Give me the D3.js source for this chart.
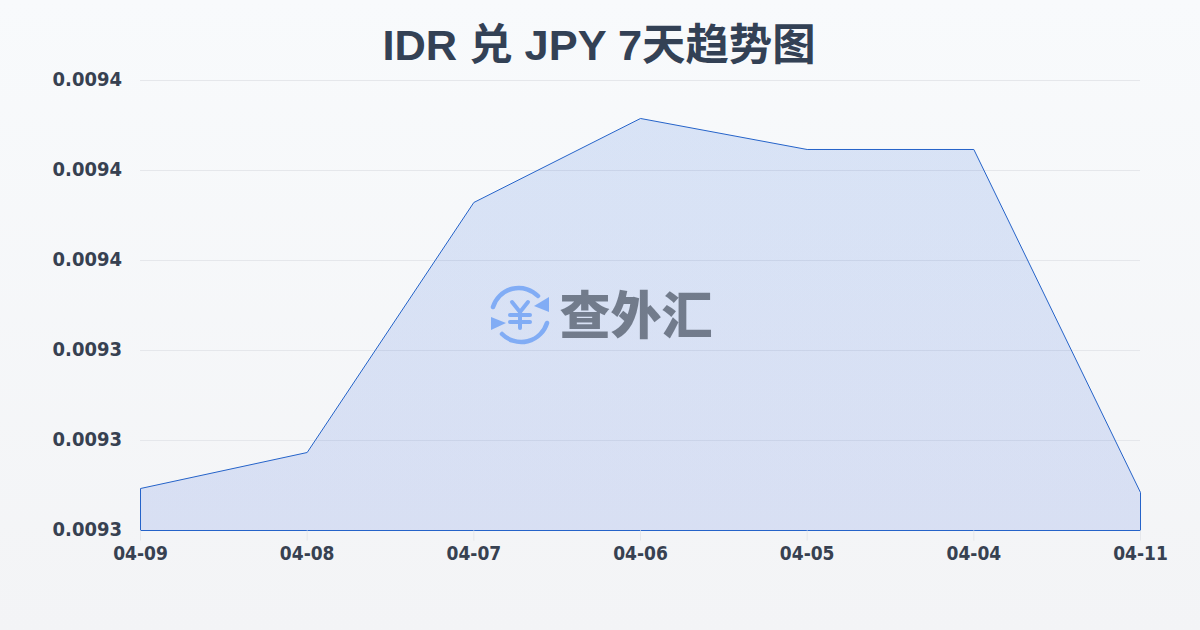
<!DOCTYPE html>
<html><head><meta charset="utf-8">
<script src="https://cdn.jsdelivr.net/npm/d3@7/dist/d3.min.js"></script>
<style>
html,body{margin:0;padding:0;background:#f6f7f9}
svg{display:block}
</style></head><body><svg id="c" width="1200" height="630"></svg>
<script>
const titleText = "IDR 兑 JPY 7天趋势图";
const dates = ["04-09","04-08","04-07","04-06","04-05","04-04","04-11"];
const rates = [0.00930933,0.00931733,0.00937289,0.00939156,0.00938467,0.00938467,0.00930844];
const yTicks = [0.0093,0.00932,0.00934,0.00936,0.00938,0.0094];
const watermarkText = "查外汇";

const svg = d3.select("#c");
const defs = svg.append("defs");
const bg = defs.append("linearGradient").attr("id","bg").attr("x1",0).attr("y1",0).attr("x2",0).attr("y2",1);
bg.append("stop").attr("offset",0).attr("stop-color","#f8fafc");
bg.append("stop").attr("offset",1).attr("stop-color","#f3f4f6");
const ag = defs.append("linearGradient").attr("id","ag").attr("x1",0).attr("y1",0).attr("x2",0).attr("y2",1);
ag.append("stop").attr("offset",0).attr("stop-color","#1d5fd8").attr("stop-opacity",0.14);
ag.append("stop").attr("offset",1).attr("stop-color","#1d4ed8").attr("stop-opacity",0.13);
svg.append("rect").attr("width",1200).attr("height",630).attr("fill","url(#bg)");

const x = d3.scalePoint().domain(dates).range([140.5,1140.5]);
const y = d3.scaleLinear().domain([0.0093,0.0094]).range([530.5,80.5]);

// grid
svg.append("g").selectAll("line").data(yTicks.slice(1)).join("line")
  .attr("x1",140).attr("x2",1140).attr("y1",d=>y(d)).attr("y2",d=>y(d))
  .attr("stroke","#e5e7eb").attr("stroke-width",1);

// area and line
const pts = dates.map((d,i)=>({d,v:rates[i]}));
const area = d3.area().x(p=>x(p.d)).y0(y(0.0093)).y1(p=>y(p.v));
svg.append("path").datum(pts).attr("d",area).attr("fill","url(#ag)").attr("stroke","none");
svg.append("path").datum(pts).attr("d",area).attr("fill","none").attr("stroke","#2563c9").attr("stroke-width",1).attr("stroke-linejoin","round");

// axes
const xAxis = svg.append("g").attr("transform","translate(0,530.5)")
  .call(d3.axisBottom(x).tickSize(10).tickPadding(3).offset(0));
xAxis.select(".domain").remove();
xAxis.selectAll("line").attr("stroke","#e5e7eb");
xAxis.selectAll("text").attr("fill","#374151").attr("font-size",19).attr("font-weight",700)
  .attr("y",16)
  .attr("font-family",'"DejaVu Sans Condensed","DejaVu Sans",sans-serif').style("font-stretch","condensed");

const yAxis = svg.append("g").attr("transform","translate(140,0)")
  .call(d3.axisLeft(y).tickValues(yTicks).tickFormat(d=>d.toFixed(4)).tickSize(0).tickPadding(18).offset(0));
yAxis.select(".domain").remove();
yAxis.selectAll("text").attr("fill","#374151").attr("font-size",20).attr("font-weight",700)
  .attr("dy","0.27em")
  .attr("font-family",'"DejaVu Sans Condensed","DejaVu Sans",sans-serif').style("font-stretch","condensed");

// title
svg.append("text").attr("x",599).attr("y",60).attr("text-anchor","middle")
  .attr("font-family",'"Liberation Sans","Noto Sans CJK SC",sans-serif')
  .attr("font-size",43.4).attr("font-weight",700).attr("fill","#334155").text(titleText);

// watermark
const wm = svg.append("g").attr("opacity",0.55);
const ic = wm.append("g").attr("transform","translate(520,315)").attr("fill","none").attr("stroke","#3b82f6");
ic.append("path").attr("d","M-27,-8 A27,27 0 0 1 18,-19").attr("stroke-width",4.5).attr("stroke-linecap","round");
ic.append("path").attr("d","M27,8 A27,27 0 0 1 -18,19").attr("stroke-width",4.5).attr("stroke-linecap","round");
ic.append("path").attr("d","M29,-18 L29,-3 L14,-9 Z").attr("fill","#3b82f6").attr("stroke","none");
ic.append("path").attr("d","M-29,2 L-29,15 L-14,8 Z").attr("fill","#3b82f6").attr("stroke","none");
ic.append("path").attr("d","M-8,-13 L0,-3 L8,-13 M-10,0 H10 M-10,7 H10 M0,-3 V13").attr("stroke-width",4).attr("stroke-linecap","round").attr("stroke-linejoin","round");
wm.append("text").attr("x",636).attr("y",334).attr("text-anchor","middle")
  .attr("font-family",'"Noto Sans CJK SC",sans-serif')
  .attr("font-size",51).attr("font-weight",900).attr("fill","#1f2937").text(watermarkText);
</script></body></html>
